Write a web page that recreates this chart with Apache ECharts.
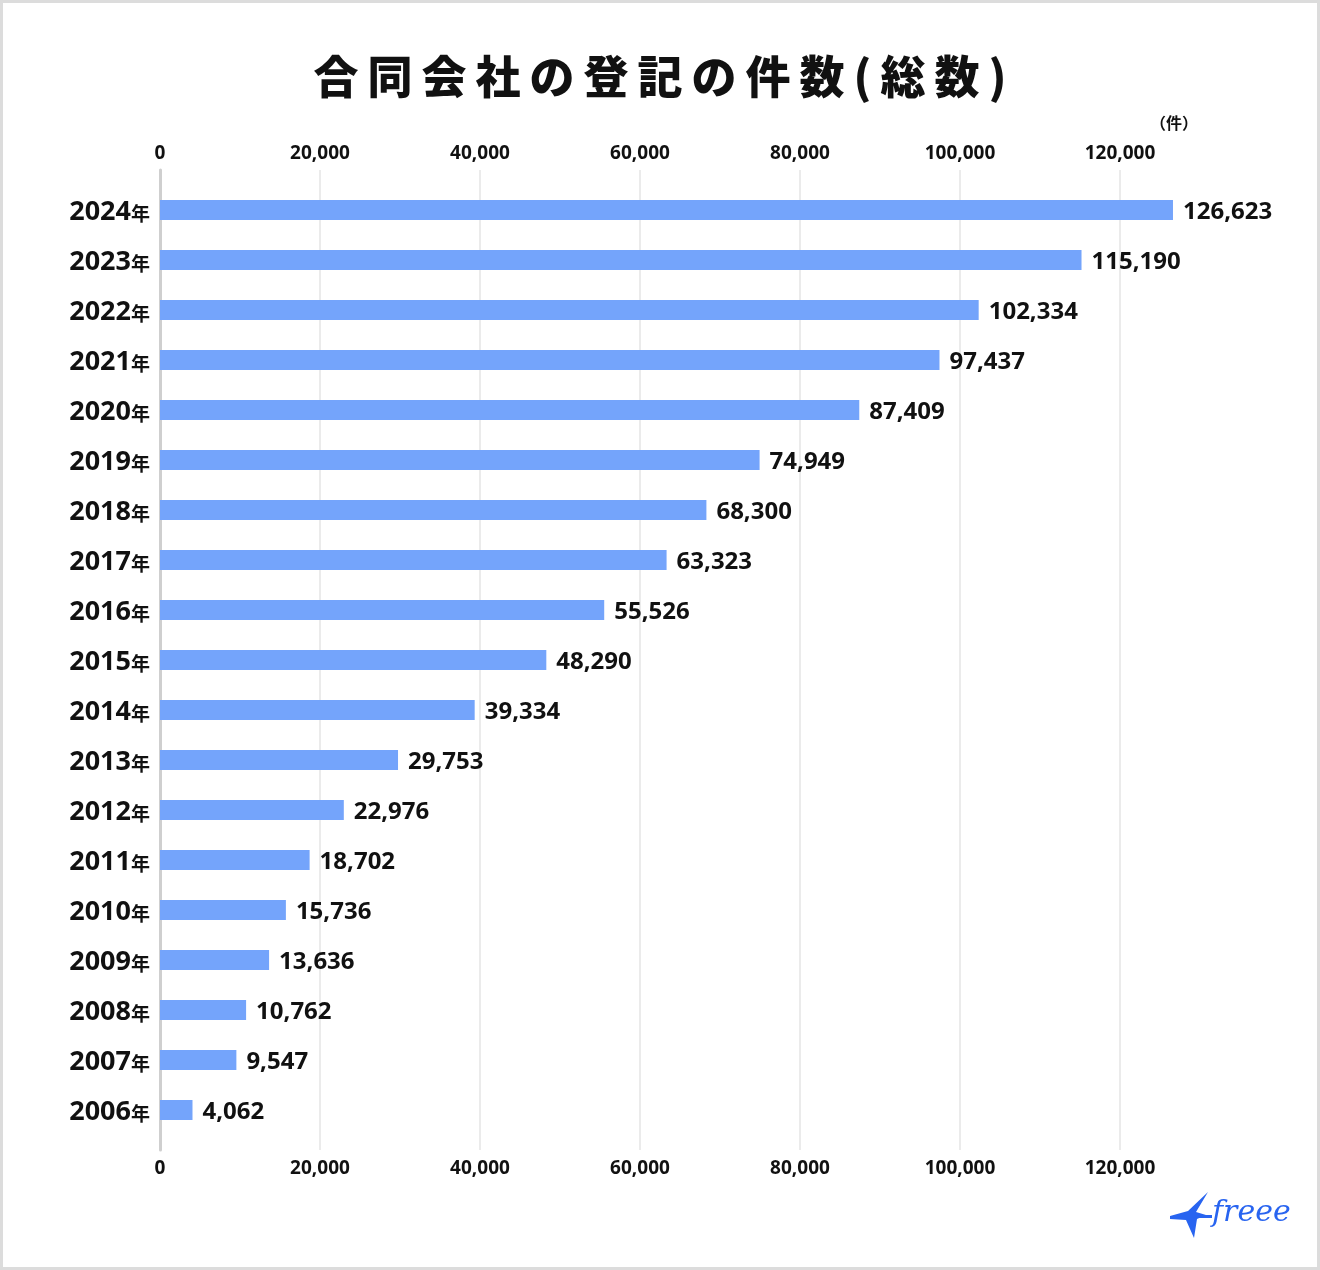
<!DOCTYPE html>
<html>
<head>
    <meta charset="utf-8">
    <title>合同会社の登記の件数</title>
    <script src="https://cdn.jsdelivr.net/npm/echarts@6/dist/echarts.min.js"></script>
    <style>
        html, body {margin: 0; padding: 0; background: #fff;}
        #main {width: 1320px; height: 1270px;}
    </style>
</head>
<body>
<div id="main"></div>

<script type="text/javascript">
    // 年（古い順）
    var years = ['2006', '2007', '2008', '2009', '2010', '2011', '2012', '2013', '2014', '2015',
                 '2016', '2017', '2018', '2019', '2020', '2021', '2022', '2023', '2024'];
    // 登記件数
    var counts = [4062, 9547, 10762, 13636, 15736, 18702, 22976, 29753, 39334, 48290,
                  55526, 63323, 68300, 74949, 87409, 97437, 102334, 115190, 126623];
    // 目盛り
    var tickMax = 120000;
    var tickStep = 20000;

    var titleText = '合同会社の登記の件数(総数)';
    var unitText = '（件）';

    var numFont = '"Noto Sans", "Noto Sans CJK JP", sans-serif';
    var jpFont = '"Noto Sans CJK JP", sans-serif';

    function fmt(v) {
        return v.toString().replace(/\B(?=(\d{3})+(?!\d))/g, ',');
    }

    var myChart = echarts.init(document.getElementById('main'));

    var axisLabelStyle = {
        color: '#111',
        fontFamily: numFont,
        fontWeight: 'bold',
        fontSize: 19,
        formatter: function (v) { return fmt(v); }
    };

    var option = {
        backgroundColor: '#fff',
        animation: false,
        title: {
            text: titleText.split('').join('\u2009'),
            left: 'center',
            top: 49,
            textStyle: {
                fontFamily: jpFont,
                fontWeight: 900,
                fontSize: 45,
                color: '#111'
            }
        },
        grid: [
            // 目盛り線用
            {left: 160, top: 170, width: 960, height: 980},
            // 棒グラフ用
            {left: 160, top: 185, width: 960, height: 950}
        ],
        xAxis: [
            {
                gridIndex: 0, type: 'value', position: 'top',
                min: 0, max: tickMax, interval: tickStep,
                axisLine: {show: false}, axisTick: {show: false},
                splitLine: {lineStyle: {color: '#ebebeb', width: 2}},
                axisLabel: Object.assign({margin: 7}, axisLabelStyle)
            },
            {
                gridIndex: 0, type: 'value', position: 'bottom',
                min: 0, max: tickMax, interval: tickStep,
                axisLine: {show: false}, axisTick: {show: false},
                splitLine: {show: false},
                axisLabel: Object.assign({margin: 9}, axisLabelStyle)
            },
            {
                gridIndex: 1, type: 'value', show: false,
                min: 0, max: tickMax
            }
        ],
        yAxis: [
            {
                gridIndex: 0, type: 'category', data: years,
                axisLine: {show: true, lineStyle: {color: '#cfcfcf', width: 3}},
                axisTick: {show: false}, axisLabel: {show: false}
            },
            {
                gridIndex: 1, type: 'category', data: years,
                axisLine: {show: false}, axisTick: {show: false},
                axisLabel: {
                    margin: 10,
                    formatter: function (v) { return '{y|' + v + '}{n|年}'; },
                    rich: {
                        y: {fontFamily: numFont, fontWeight: 'bold', fontSize: 27, color: '#111', padding: [4, 0, 0, 0]},
                        n: {fontFamily: jpFont, fontWeight: 'bold', fontSize: 19, color: '#111', padding: [8, 0, 0, 0]}
                    }
                }
            }
        ],
        series: [{
            type: 'bar',
            xAxisIndex: 2,
            yAxisIndex: 1,
            data: counts,
            barWidth: 20,
            clip: false,
            itemStyle: {color: '#74a4fb'},
            label: {
                show: true,
                position: 'right',
                distance: 10,
                offset: [0, 2],
                color: '#111',
                fontFamily: numFont,
                fontWeight: 'bold',
                fontSize: 24,
                formatter: function (p) { return fmt(p.value); }
            }
        }],
        graphic: [
            {
                type: 'rect',
                shape: {x: 1.5, y: 1.5, width: 1317, height: 1267},
                style: {fill: 'none', stroke: '#dcdcdc', lineWidth: 3},
                silent: true
            },
            {
                type: 'text',
                left: 1150, top: 115,
                style: {text: unitText, font: 'bold 16px ' + jpFont, fill: '#111'}
            },
            {
                type: 'polygon',
                shape: {points: [[1170, 1216], [1188, 1211], [1208, 1192], [1196, 1212], [1206, 1215],
                                 [1197, 1219], [1194, 1238], [1186, 1220], [1170, 1219]]},
                style: {fill: '#2864f0'}
            },
            {
                type: 'rect',
                shape: {x: 1196, y: 1215, width: 16, height: 3},
                style: {fill: '#2864f0'}
            },
            {
                type: 'text',
                left: 1212, top: 1198,
                style: {text: 'freee', font: 'italic 30px "DejaVu Serif", serif', fill: '#2864f0'}
            }
        ]
    };

    myChart.setOption(option);
</script>
</body>
</html>
